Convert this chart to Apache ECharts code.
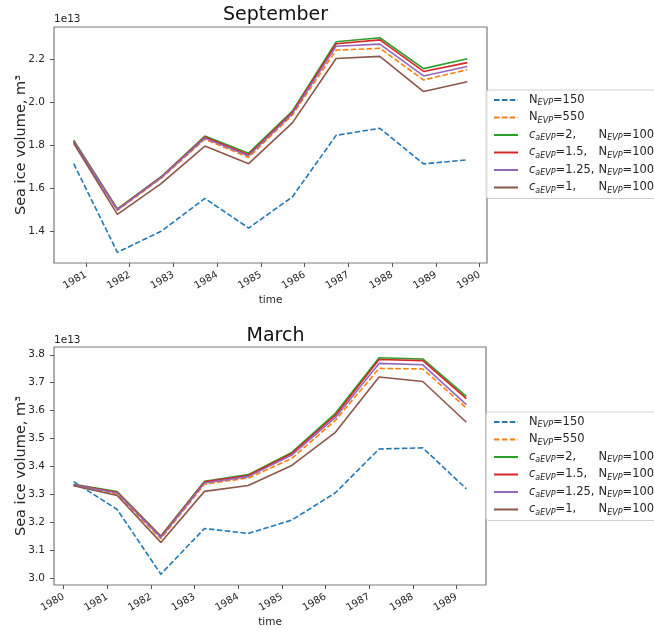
<!DOCTYPE html>
<html>
<head>
<meta charset="utf-8">
<script src="https://cdn.jsdelivr.net/npm/echarts@6/dist/echarts.min.js"></script>
<style>
html,body{margin:0;padding:0;background:#fff;}
#chart{width:654px;height:630px;}
</style>
</head>
<body>
<div id="chart"></div>
<script>
// ---- data (values in units of 1e13 m^3) ----
const seriesNames = ['N150', 'N550', 'c2', 'c1.5', 'c1.25', 'c1'];
const yearTicksSep = [1981, 1982, 1983, 1984, 1985, 1986, 1987, 1988, 1989, 1990];
const yearTicksMar = [1980, 1981, 1982, 1983, 1984, 1985, 1986, 1987, 1988, 1989];
const septDates = ['1980-09-20', '1981-09-20', '1982-09-20', '1983-09-20', '1984-09-20',
                   '1985-09-20', '1986-09-20', '1987-09-20', '1988-09-20', '1989-09-20'];
const marDates = ['1980-03-25', '1981-03-25', '1982-03-25', '1983-03-25', '1984-03-25',
                  '1985-03-25', '1986-03-25', '1987-03-25', '1988-03-25', '1989-03-25'];

const sepN150  = [1.713, 1.300, 1.398, 1.551, 1.413, 1.558, 1.845, 1.878, 1.712, 1.731];
const sepN550  = [1.812, 1.495, 1.645, 1.827, 1.742, 1.940, 2.242, 2.251, 2.103, 2.151];
const sepC2    = [1.822, 1.502, 1.652, 1.842, 1.762, 1.958, 2.281, 2.300, 2.156, 2.202];
const sepC15   = [1.818, 1.500, 1.650, 1.837, 1.755, 1.952, 2.272, 2.290, 2.143, 2.184];
const sepC125  = [1.815, 1.498, 1.648, 1.832, 1.750, 1.946, 2.260, 2.270, 2.122, 2.166];
const sepC1    = [1.808, 1.477, 1.620, 1.795, 1.713, 1.903, 2.203, 2.213, 2.049, 2.095];

const marN150  = [3.345, 3.245, 3.013, 3.177, 3.159, 3.207, 3.305, 3.462, 3.466, 3.319];
const marN550  = [3.332, 3.300, 3.140, 3.336, 3.358, 3.428, 3.565, 3.751, 3.749, 3.609];
const marC2    = [3.335, 3.309, 3.150, 3.346, 3.370, 3.450, 3.590, 3.789, 3.785, 3.651];
const marC15   = [3.334, 3.307, 3.148, 3.344, 3.367, 3.446, 3.583, 3.783, 3.779, 3.643];
const marC125  = [3.333, 3.304, 3.145, 3.340, 3.363, 3.440, 3.575, 3.769, 3.764, 3.621];
const marC1    = [3.330, 3.295, 3.127, 3.310, 3.331, 3.403, 3.522, 3.720, 3.704, 3.558];

const sepTicksY = [1.4, 1.6, 1.8, 2.0, 2.2];
const marTicksY = [3.0, 3.1, 3.2, 3.3, 3.4, 3.5, 3.6, 3.7, 3.8];

// ---- helpers ----
function toYear(s) {
  const p = s.split('-').map(Number);
  const t = Date.UTC(p[0], p[1] - 1, p[2]);
  const a = Date.UTC(p[0], 0, 1), b = Date.UTC(p[0] + 1, 0, 1);
  return p[0] + (t - a) / (b - a);
}
function pad(arr) {
  const mn = Math.min(...arr), mx = Math.max(...arr), r = mx - mn;
  return [mn - 0.05 * r, mx + 0.05 * r];
}
const colors = ['#1f77b4', '#ff7f0e', '#2ca02c', '#d62728', '#9467bd', '#8c564b'];
const dashed = [5.5, 2.4];
const FONT = 'DejaVu Sans';
const TXT = '#262626';

const sepVals = [sepN150, sepN550, sepC2, sepC15, sepC125, sepC1];
const marVals = [marN150, marN550, marC2, marC15, marC125, marC1];
const sepX = septDates.map(toYear);
const marX = marDates.map(toYear);
const sepXR = pad(sepX), marXR = pad(marX);
const sepYR = pad([].concat(...sepVals)), marYR = pad([].concat(...marVals));

const legendLabels = {
  'N150': '{n|N}{s|EVP}{n|=150}',
  'N550': '{n|N}{s|EVP}{n|=550}',
  'c2': '{c|c}{s|aEVP}{v|=2,}{n|N}{s|EVP}{n|=100}',
  'c1.5': '{c|c}{s|aEVP}{v|=1.5,}{n|N}{s|EVP}{n|=100}',
  'c1.25': '{c|c}{s|aEVP}{v|=1.25,}{n|N}{s|EVP}{n|=100}',
  'c1': '{c|c}{s|aEVP}{v|=1,}{n|N}{s|EVP}{n|=100}'
};
const rich = {
  n: {fontFamily: FONT, fontSize: 11.5, color: TXT, lineHeight: 14},
  c: {fontFamily: FONT, fontSize: 11.5, fontStyle: 'italic', color: TXT, lineHeight: 14},
  v: {fontFamily: FONT, fontSize: 11.5, color: TXT, lineHeight: 14, width: 43},
  s: {fontFamily: FONT, fontSize: 8, fontStyle: 'italic', color: TXT, lineHeight: 9, verticalAlign: 'bottom'}
};

function makeLegend(top) {
  return {
    orient: 'vertical', left: 486, top: top,
    data: seriesNames,
    itemStyle: {opacity: 0},
    itemWidth: 24, itemHeight: 14, itemGap: 4.5,
    padding: [4, 5, 4, 7],
    backgroundColor: 'rgba(255,255,255,0.8)',
    borderColor: '#d0d0d0', borderWidth: 1, borderRadius: 3,
    selectedMode: false,
    formatter: name => legendLabels[name],
    textStyle: {rich: rich, padding: [0, 0, 0, 6]}
  };
}
function makeX(grid, range, ticks) {
  return {
    type: 'value', gridIndex: grid, min: range[0], max: range[1],
    name: 'time', nameLocation: 'middle', nameGap: 32, nameMoveOverlap: false,
    nameTextStyle: {fontFamily: FONT, fontSize: 10.5, color: TXT},
    axisLine: {show: false},
    axisTick: {show: true, customValues: ticks, length: 4, lineStyle: {color: '#555'}},
    axisLabel: {customValues: ticks, rotate: 30, margin: 11, fontFamily: FONT, fontSize: 10, color: TXT,
                formatter: v => String(Math.round(v))},
    splitLine: {show: false}
  };
}
function makeY(grid, range, ticks) {
  return {
    type: 'value', gridIndex: grid, min: range[0], max: range[1],
    name: 'Sea ice volume, m³', nameLocation: 'middle', nameGap: 25, nameMoveOverlap: false,
    nameTextStyle: {fontFamily: FONT, fontSize: 14.5, color: TXT},
    axisLine: {show: false},
    axisTick: {show: true, customValues: ticks, length: 4, lineStyle: {color: '#555'}},
    axisLabel: {customValues: ticks, margin: 9, fontFamily: FONT, fontSize: 10.5, color: TXT,
                formatter: v => v.toFixed(1)},
    splitLine: {show: false}
  };
}

const series = [];
[[sepVals, sepX, 0], [marVals, marX, 1]].forEach(([vals, xs, g]) => {
  vals.forEach((arr, i) => {
    series.push({
      type: 'line', name: seriesNames[i], xAxisIndex: g, yAxisIndex: g,
      data: xs.map((x, k) => [x, arr[k]]),
      symbol: 'none', showSymbol: false, animation: false, silent: true,
      lineStyle: {color: colors[i], width: 1.6, type: i < 2 ? dashed : 'solid'},
      itemStyle: {color: colors[i]}
    });
  });
});

const chart = echarts.init(document.getElementById('chart'), null, {renderer: 'canvas'});
chart.setOption({
  animation: false,
  backgroundColor: '#fff',
  title: [
    {text: 'September', left: 270.5, textAlign: 'center', top: 1,
     textStyle: {fontFamily: FONT, fontSize: 19, fontWeight: 'normal', color: '#111'}},
    {text: 'March', left: 270.5, textAlign: 'center', top: 322,
     textStyle: {fontFamily: FONT, fontSize: 19, fontWeight: 'normal', color: '#111'}}
  ],
  graphic: [
    {type: 'text', left: 54, top: 14, style: {text: '1e13', font: '10.5px "DejaVu Sans"', fill: TXT}},
    {type: 'text', left: 54, top: 335, style: {text: '1e13', font: '10.5px "DejaVu Sans"', fill: TXT}}
  ],
  grid: [
    {left: 54, top: 27, width: 433, height: 236, show: true, borderColor: '#7a7a7a', borderWidth: 1.2, backgroundColor: 'transparent'},
    {left: 54, top: 347, width: 432, height: 238, show: true, borderColor: '#7a7a7a', borderWidth: 1.2, backgroundColor: 'transparent'}
  ],
  legend: [makeLegend(90), makeLegend(412)],
  xAxis: [makeX(0, sepXR, yearTicksSep), makeX(1, marXR, yearTicksMar)],
  yAxis: [makeY(0, sepYR, sepTicksY), makeY(1, marYR, marTicksY)],
  series: series
});
</script>
</body>
</html>
